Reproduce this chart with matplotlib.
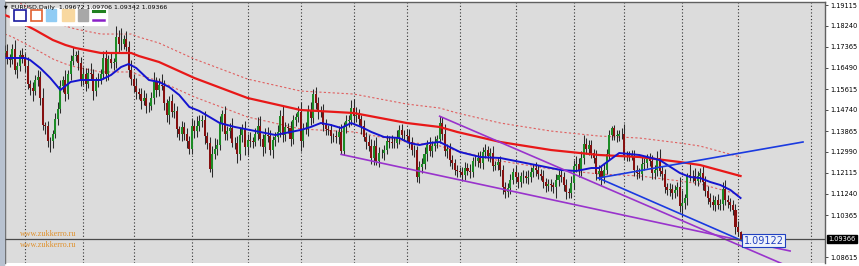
import numpy as np
import matplotlib
matplotlib.use("Agg")
import matplotlib.pyplot as plt
from matplotlib.patches import Rectangle

# EURUSD daily, Jul 2018 - Sep 2019 (prices in 1e-4 units)
opens = [
    11710, 11718, 11690, 11684, 11727, 11641, 11657, 11705,
    11691, 11659, 11583, 11567, 11553, 11600, 11612, 11525, 11410, 11407, 11345, 11344, 11376, 11438, 11478, 11572, 11597, 11540, 11623, 11680, 11700, 11705, 11671,
    11600, 11622, 11583, 11630, 11624, 11552, 11595, 11602, 11625, 11689, 11624, 11686, 11670, 11672, 11778, 11747, 11748, 11768, 11738, 11641,
    11604, 11576, 11548, 11542, 11513, 11524, 11491, 11490, 11522, 11591, 11558, 11579, 11576, 11503, 11452, 11512, 11466, 11470, 11393, 11373, 11402, 11374, 11346,
    11311, 11409, 11388, 11407, 11430, 11434, 11364, 11336, 11230, 11292, 11312, 11327, 11417, 11456, 11373, 11386, 11400, 11338, 11337, 11289, 11370, 11393,
    11318, 11351, 11343, 11342, 11376, 11408, 11355, 11318, 11369, 11365, 11306, 11348, 11361, 11381, 11447, 11370, 11403, 11400, 11355, 11432, 11444,
    11467, 11345, 11393, 11395, 11474, 11441, 11540, 11502, 11468, 11471, 11413, 11393, 11389, 11365, 11364, 11360, 11384, 11303, 11405, 11427, 11432, 11481,
    11448, 11455, 11437, 11406, 11363, 11341, 11325, 11275, 11326, 11263, 11295, 11295, 11309, 11343, 11339, 11337, 11335, 11357, 11391, 11371,
    11370, 11365, 11340, 11307, 11307, 11193, 11235, 11247, 11289, 11327, 11305, 11325, 11339, 11353, 11418, 11374, 11302, 11313, 11264, 11253, 11224,
    11218, 11214, 11205, 11234, 11221, 11216, 11262, 11263, 11275, 11254, 11298, 11306, 11283, 11295, 11240, 11246, 11258, 11225, 11153, 11131, 11149, 11184,
    11215, 11195, 11172, 11199, 11199, 11191, 11196, 11215, 11233, 11226, 11206, 11201, 11173, 11157, 11165, 11160, 11153, 11181, 11205, 11194, 11163, 11131, 11129,
    11169, 11239, 11251, 11221, 11276, 11334, 11313, 11327, 11295, 11276, 11209, 11219, 11193, 11226, 11291, 11370, 11398, 11367, 11367, 11372,
    11372, 11285, 11285, 11284, 11284, 11226, 11210, 11209, 11250, 11253, 11271, 11262, 11210, 11225, 11275, 11218, 11209, 11152, 11139, 11146, 11127, 11140, 11155,
    11075, 11088, 11107, 11205, 11200, 11199, 11180, 11199, 11213, 11172, 11138, 11107, 11090, 11078, 11097, 11080, 11082, 11144, 11099, 11089, 11079, 11056,
    10986, 10967.2,
]
closes = [
    11718, 11690, 11684, 11727, 11641, 11657, 11705, 11691,
    11659, 11583, 11567, 11553, 11600, 11612, 11525, 11410, 11407, 11345, 11344, 11376, 11438, 11478, 11572, 11597, 11540, 11623, 11680, 11700, 11705, 11671, 11600,
    11622, 11583, 11630, 11624, 11552, 11595, 11602, 11625, 11689, 11624, 11686, 11670, 11672, 11778, 11747, 11748, 11768, 11738, 11641, 11604,
    11576, 11548, 11542, 11513, 11524, 11491, 11490, 11522, 11591, 11558, 11579, 11576, 11503, 11452, 11512, 11466, 11470, 11393, 11373, 11402, 11374, 11346, 11311,
    11409, 11388, 11407, 11430, 11434, 11364, 11336, 11230, 11292, 11312, 11327, 11417, 11456, 11373, 11386, 11400, 11338, 11337, 11289, 11370, 11393, 11318,
    11351, 11343, 11342, 11376, 11408, 11355, 11318, 11369, 11365, 11306, 11348, 11361, 11381, 11447, 11370, 11403, 11400, 11355, 11432, 11444, 11467,
    11345, 11393, 11395, 11474, 11441, 11540, 11502, 11468, 11471, 11413, 11393, 11389, 11365, 11364, 11360, 11384, 11303, 11405, 11427, 11432, 11481, 11448,
    11455, 11437, 11406, 11363, 11341, 11325, 11275, 11326, 11263, 11295, 11295, 11309, 11343, 11339, 11337, 11335, 11357, 11391, 11371, 11370,
    11365, 11340, 11307, 11307, 11193, 11235, 11247, 11289, 11327, 11305, 11325, 11339, 11353, 11418, 11374, 11302, 11313, 11264, 11253, 11224, 11218,
    11214, 11205, 11234, 11221, 11216, 11262, 11263, 11275, 11254, 11298, 11306, 11283, 11295, 11240, 11246, 11258, 11225, 11153, 11131, 11149, 11184, 11215,
    11195, 11172, 11199, 11199, 11191, 11196, 11215, 11233, 11226, 11206, 11201, 11173, 11157, 11165, 11160, 11153, 11181, 11205, 11194, 11163, 11131, 11129, 11169,
    11239, 11251, 11221, 11276, 11334, 11313, 11327, 11295, 11276, 11209, 11219, 11193, 11226, 11291, 11370, 11398, 11367, 11367, 11372, 11372,
    11285, 11285, 11284, 11284, 11226, 11210, 11209, 11250, 11253, 11271, 11262, 11210, 11225, 11275, 11218, 11209, 11152, 11139, 11146, 11127, 11140, 11155, 11075,
    11088, 11107, 11205, 11200, 11199, 11180, 11199, 11213, 11172, 11138, 11107, 11090, 11078, 11097, 11080, 11082, 11144, 11099, 11089, 11079, 11056, 10986,
    10967, 10936.6,
]
# wick lengths above / below the body, pips
upper_wick = [
    25, 30, 18, 22, 40, 15, 20, 28,
    20, 35, 15, 22, 18, 30, 25, 40, 12, 20, 18, 15, 22, 30, 25, 20, 45, 18, 22, 35, 15, 20, 25,
    30, 25, 18, 40, 22, 15, 28, 20, 30, 35, 18, 25, 20, 45, 30, 67, 20, 35, 25, 40,
    22, 30, 18, 25, 35, 20, 15, 28, 40, 22, 30, 45, 25, 18, 20, 30, 35, 22, 15, 28, 20, 25, 18,
    30, 25, 40, 22, 18, 35, 20, 25, 30, 45, 28, 30, 20, 35, 22, 18, 40, 25, 30, 28, 22, 35,
    25, 30, 18, 22, 35, 40, 20, 28, 35, 25, 18, 22, 30, 25, 45, 20, 15, 28, 22, 18, 25,
    40, 25, 30, 22, 35, 20, 30, 25, 18, 30, 22, 20, 28, 15, 25, 22, 30, 18, 25, 20, 35, 40,
    30, 22, 18, 25, 20, 28, 30, 22, 35, 25, 18, 20, 28, 22, 30, 25, 35, 20, 25, 18,
    25, 30, 22, 20, 18, 28, 25, 30, 22, 35, 20, 25, 18, 30, 28, 40, 20, 25, 22, 18, 20,
    18, 22, 25, 20, 28, 15, 25, 22, 30, 20, 25, 18, 22, 30, 15, 20, 25, 18, 22, 20, 25, 18,
    30, 22, 18, 25, 20, 28, 22, 18, 25, 20, 22, 25, 18, 20, 22, 15, 25, 20, 18, 22, 25, 20, 28,
    25, 30, 22, 28, 35, 25, 20, 22, 18, 30, 25, 22, 28, 20, 20, 10, 14, 22, 20, 25,
    45, 20, 18, 22, 25, 20, 22, 28, 20, 18, 22, 25, 20, 28, 35, 22, 20, 18, 25, 20, 22, 18, 40,
    52, 15, 8, 45, 25, 35, 22, 20, 30, 25, 20, 22, 28, 20, 25, 22, 30, 40, 20, 18, 22, 25,
    25, 3.4,
]
lower_wick = [
    20, 25, 30, 18, 15, 35, 22, 20,
    25, 20, 30, 40, 18, 25, 30, 20, 35, 25, 43, 30, 20, 25, 18, 22, 30, 20, 25, 18, 22, 30, 25,
    22, 30, 18, 25, 35, 20, 25, 18, 22, 30, 25, 20, 28, 22, 30, 25, 20, 18, 30, 25,
    25, 30, 22, 35, 20, 28, 25, 18, 22, 30, 25, 20, 28, 30, 35, 20, 25, 30, 22, 28, 25, 30, 20,
    22, 30, 25, 20, 28, 30, 25, 14, 35, 22, 25, 18, 30, 25, 22, 30, 20, 25, 35, 22, 28, 30,
    30, 22, 25, 18, 28, 30, 35, 22, 25, 20, 30, 25, 22, 18, 28, 25, 20, 30, 22, 25, 18,
    40, 25, 20, 28, 30, 22, 25, 30, 22, 28, 25, 20, 30, 22, 25, 28, 14, 18, 25, 22, 20, 30,
    22, 25, 30, 20, 28, 22, 25, 30, 20, 25, 22, 28, 20, 25, 22, 18, 20, 25, 22, 20,
    22, 25, 20, 28, 17, 25, 22, 20, 28, 22, 25, 20, 22, 18, 25, 20, 28, 22, 25, 20, 22,
    20, 25, 22, 18, 25, 20, 22, 28, 20, 25, 22, 20, 25, 22, 18, 20, 25, 30, 22, 20, 25, 20,
    25, 22, 20, 28, 22, 25, 20, 22, 25, 20, 18, 22, 25, 20, 22, 25, 46, 22, 20, 25, 28, 20, 22,
    25, 22, 28, 20, 25, 22, 25, 20, 22, 28, 25, 30, 22, 20, 25, 22, 20, 25, 22, 20,
    20, 25, 22, 20, 25, 22, 20, 28, 25, 22, 20, 25, 22, 28, 20, 25, 22, 20, 25, 22, 20, 25, 28,
    48, 25, 30, 22, 25, 20, 22, 25, 30, 22, 25, 20, 22, 25, 20, 22, 25, 20, 22, 25, 20, 30,
    20, 2.4,
]

# indicator lines (bar index, price)
blue_ma_bar = [0, 8, 10, 14, 18, 22, 26, 30, 38, 42, 46, 49, 52, 57, 61, 65, 69, 73, 77, 81, 85, 91, 97, 103, 107,
               111, 117, 121, 125, 129, 133, 137, 141, 145, 150, 156, 160, 164, 168, 172, 176, 180, 188, 196,
               204, 212, 220, 226, 232, 235, 243, 251, 259, 267, 271, 275, 279, 283, 287, 291]
blue_ma = [1.16907, 1.16907, 1.16823, 1.16490, 1.16073, 1.15573, 1.15907, 1.15990, 1.15990, 1.16198, 1.16532,
           1.16657, 1.16490, 1.15990, 1.15907, 1.15698, 1.15365, 1.14865, 1.14698, 1.14448, 1.14198, 1.14032,
           1.13907, 1.13782, 1.13698, 1.13782, 1.13907, 1.14032, 1.14198, 1.14115, 1.13990, 1.14198, 1.14032,
           1.13823, 1.13615, 1.13573, 1.13365, 1.13282, 1.13365, 1.13407, 1.13198, 1.12990, 1.12782, 1.12740,
           1.12573, 1.12407, 1.12240, 1.12198, 1.12323, 1.12323, 1.12948, 1.12865, 1.12657, 1.12115, 1.11948,
           1.11907, 1.11740, 1.11615, 1.11407, 1.11073]
red_ma_bar = [0, 3, 12, 19, 24, 28, 38, 50, 53, 61, 75, 96, 117, 138, 159, 172, 179, 196, 216, 235, 251, 267, 275, 291]
red_ma = [1.18698, 1.18573, 1.18073, 1.17657, 1.17448, 1.17323, 1.17115, 1.17115, 1.16990, 1.16740, 1.16073,
          1.15240, 1.14740, 1.14615, 1.14198, 1.14032, 1.13823, 1.13407, 1.13073, 1.12865, 1.12782, 1.12573,
          1.12448, 1.11990]
env_upper = [1.19488, 1.19363, 1.18863, 1.18447, 1.18238, 1.18113, 1.17905, 1.17905, 1.17780, 1.17530, 1.16863,
             1.16030, 1.15530, 1.15405, 1.14988, 1.14822, 1.14613, 1.14197, 1.13863, 1.13655, 1.13572, 1.13363,
             1.13238, 1.12780]
env_lower = [1.17908, 1.17783, 1.17283, 1.16867, 1.16658, 1.16533, 1.16325, 1.16325, 1.16200, 1.15950, 1.15283,
             1.14450, 1.13950, 1.13825, 1.13408, 1.13242, 1.13033, 1.12617, 1.12283, 1.12075, 1.11992, 1.11783,
             1.11658, 1.11200]

# trend lines: (bar0, price0, bar1, price1)
purple_lines = [(133, 1.1289, 310.6, 1.08865), (172, 1.1448, 308.6, 1.08282)]
blue_lines = [(234.7, 1.11907, 315.7, 1.13407), (234.7, 1.11907, 292.8, 1.09240)]

month_starts = [8, 31, 51, 74, 96, 117, 138, 159, 180, 202, 225, 245, 268, 290, 319]
price_ticks = [1.19115, 1.18240, 1.17365, 1.16490, 1.15615, 1.14740, 1.13865, 1.12990,
               1.12115, 1.11240, 1.10365, 1.08615]
bid = 1.09366
label_price = 1.09122
header = "EURUSD,Daily  1.09672 1.09706 1.09342 1.09366"

W, H = 859, 266
fig = plt.figure(figsize=(W / 100, H / 100), dpi=100, facecolor="white")
ax = fig.add_axes([5 / W, 1 - 263 / H, 820 / W, 261 / H], facecolor="#dcdcdc")
ax.set_xlim(0.08, 324.4)
ax.set_ylim(1.08365, 1.19240)

o = np.array(opens) / 1e4
c = np.array(closes) / 1e4
hi = np.maximum(o, c) + np.array(upper_wick) / 1e4
lo = np.minimum(o, c) - np.array(lower_wick) / 1e4
idx = np.arange(len(c))

for m in month_starts:
    ax.axvline(m, color="#303030", lw=0.8, ls=(0, (1, 2)), zorder=1)

# envelope around the slow MA
ax.plot(red_ma_bar, env_upper, color="#e06060", lw=0.8, ls=(0, (2, 2)), zorder=2)
ax.plot(red_ma_bar, env_lower, color="#e06060", lw=0.8, ls=(0, (2, 2)), zorder=2)

# candles
ax.vlines(idx, lo, hi, color="#2a2a2a", lw=0.75, zorder=3)
up = c >= o
body = np.maximum(np.abs(c - o), 0.00008)
ax.bar(idx[up], body[up], bottom=o[up], width=0.8, color="#1c8c26", zorder=4)
ax.bar(idx[~up], body[~up], bottom=c[~up], width=0.8, color="#861010", zorder=4)

ax.plot(red_ma_bar, red_ma, color="#e81818", lw=1.6, zorder=5)
ax.plot(blue_ma_bar, blue_ma, color="#1414d0", lw=1.4, zorder=5)

for x0, y0, x1, y1 in purple_lines:
    ax.plot([x0, x1], [y0, y1], color="#9933cc", lw=1.2, zorder=6)
for x0, y0, x1, y1 in blue_lines:
    ax.plot([x0, x1], [y0, y1], color="#1a3ae0", lw=1.2, zorder=6)

ax.axhline(bid, color="#4a4a4a", lw=0.9, zorder=6)

ax.annotate("1.09122", (len(c) + 0.3, label_price), xytext=(0, 3), textcoords="offset points",
            fontsize=7, color="#2040c0", va="center", ha="left", zorder=8,
            bbox=dict(boxstyle="square,pad=0.15", fc="#eef2fa", ec="#2040c0", lw=0.8))

# axis styling
ax.set_xticks([])
ax.yaxis.tick_right()
ax.set_yticks(price_ticks)
ax.set_yticklabels([f"{p:.5f}" for p in price_ticks], fontsize=4.8)
ax.tick_params(axis="y", length=2, width=0.6, pad=2, color="#303030")
for side in ["top", "right", "left"]:
    ax.spines[side].set_color("#606060")
    ax.spines[side].set_linewidth(1)
ax.spines["bottom"].set_visible(False)
ax.text(1.004, bid, "1.09366", transform=ax.get_yaxis_transform(), fontsize=4.8, color="white",
        va="center", ha="left", bbox=dict(boxstyle="square,pad=0.2", fc="black", ec="black"))

# overlay in pixel coords: window strip, header, toolbar, watermark
ov = fig.add_axes([0, 0, 1, 1], facecolor="none")
ov.set_xlim(0, W)
ov.set_ylim(H, 0)
ov.axis("off")
ov.add_patch(Rectangle((0, 0), 4, H, color="#b8c2d0"))
ov.text(4, 7, "\u25bc", fontsize=3.5, color="black", va="center")
ov.text(11, 7, header, fontsize=4.5, color="black", va="center")
ov.add_patch(Rectangle((10, 8), 97, 17, color="white"))
ov.add_patch(Rectangle((13.5, 9.5), 12, 11.5, fc="none", ec="#1a1aa0", lw=1.2))
ov.add_patch(Rectangle((30.5, 9.5), 11.5, 11.5, fc="none", ec="#e06030", lw=1.2))
ov.add_patch(Rectangle((46, 9), 10, 12, color="#90ccf4"))
ov.add_patch(Rectangle((62, 9), 12, 12, color="#f8d8a0"))
ov.add_patch(Rectangle((78, 9), 10, 12, color="#a8a8a8"))
ov.plot([93, 104], [10.5, 10.5], color="#208020", lw=2.2)
ov.plot([93, 104], [20, 20], color="#8a20c8", lw=1.8)
for yy in (233.5, 245):
    ov.text(20, yy, "www.zukkerro.ru", fontsize=5.8, color="#e0902a", va="center",
            family="Liberation Serif")

fig.savefig("out.png", dpi=100, facecolor="white")
